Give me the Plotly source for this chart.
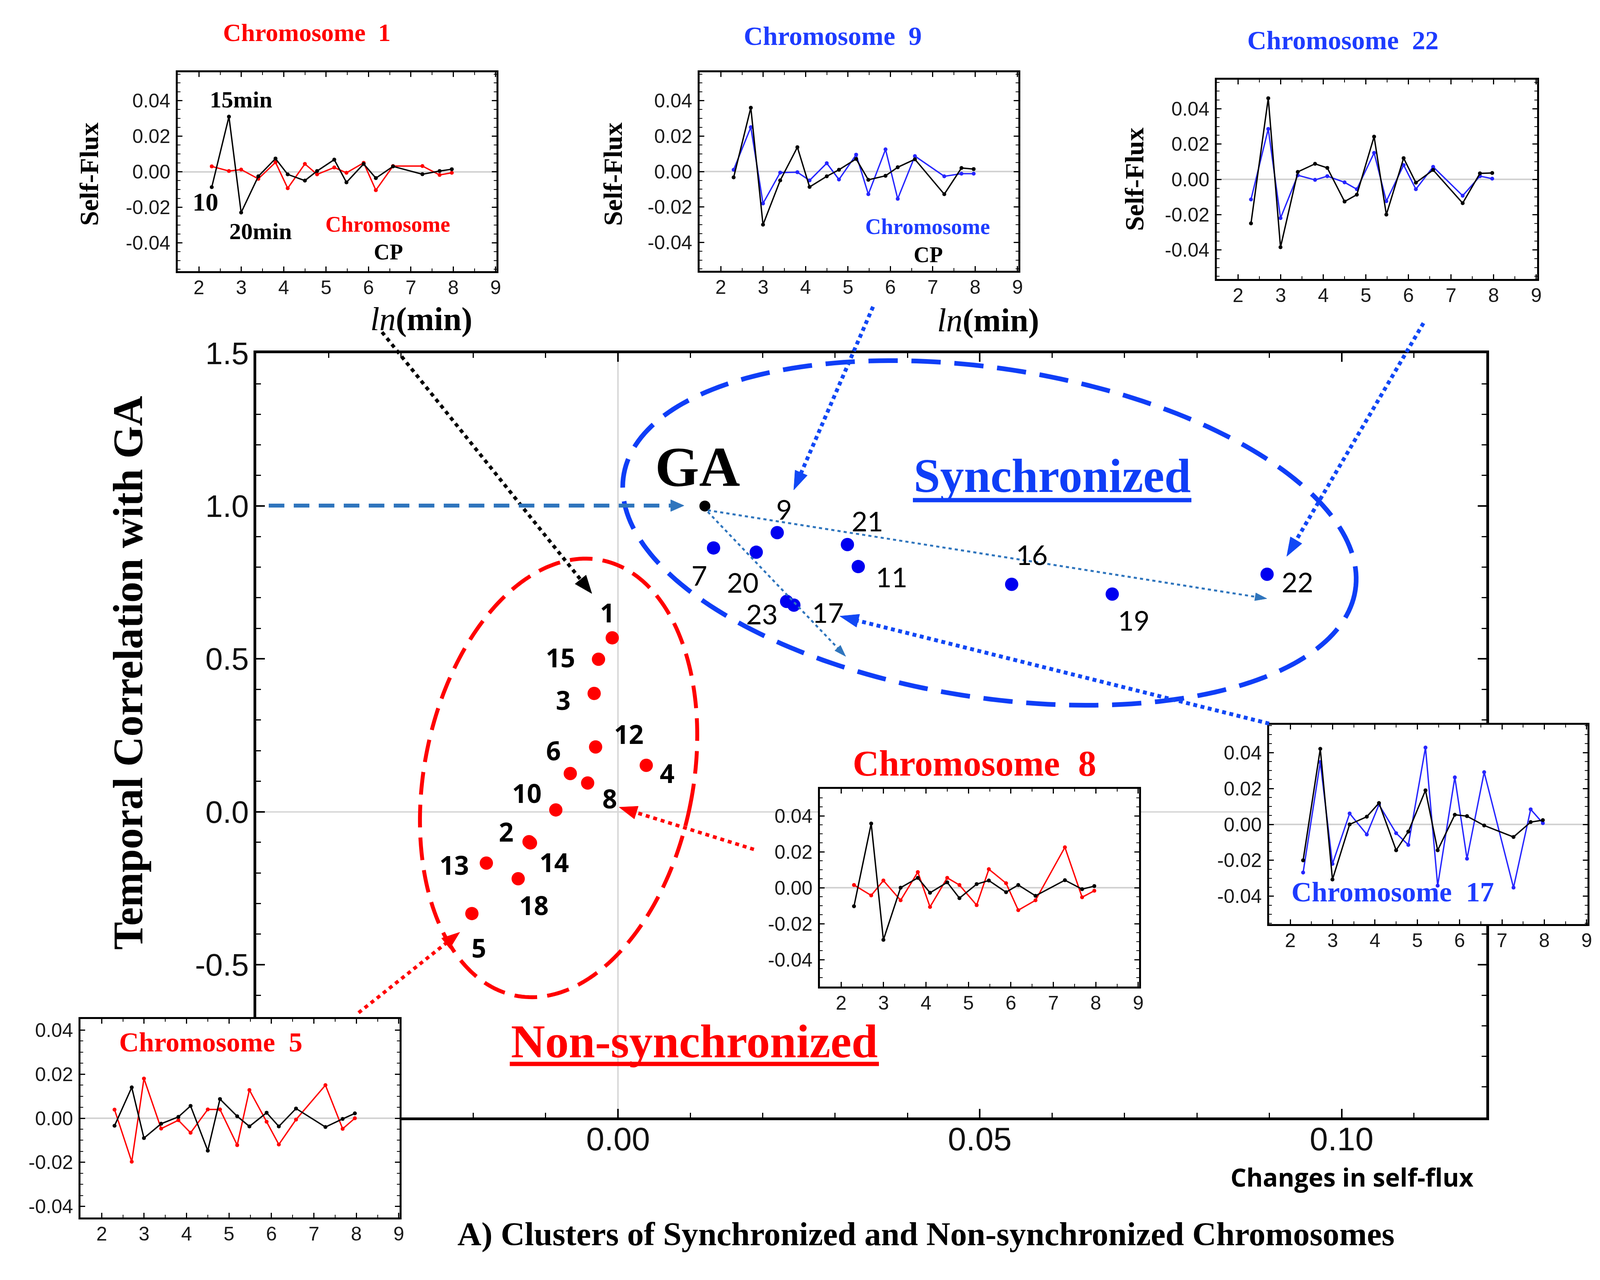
import numpy as np
import plotly.graph_objects as go

# target canvas 4117x3276; page body keeps its default 8px margin,
# so the figure is drawn 16px smaller and all positions are offset by 8px
W_PAGE, H_PAGE = 4117, 3276
OFF = 8
W, H = W_PAGE - 2 * OFF, H_PAGE - 2 * OFF - 4

# ---------------- data ----------------
minutes = [10, 15, 20, 30, 45, 60, 90, 120, 180, 240, 360, 480, 720, 1440, 2160, 2880]

chr1_self = [0.003, 0.0004, 0.0012, -0.004, 0.0053, -0.0093, 0.0044, -0.0015, 0.0024, -0.0006, 0.005, -0.0104, 0.0032, 0.0032, -0.0018, -0.0006]
chr1_cp = [-0.0087, 0.031, -0.023, -0.0026, 0.0074, -0.0015, -0.005, 0.0004, 0.0068, -0.006, 0.0044, -0.0036, 0.003, -0.0014, 0.0004, 0.0014]

chr9_self = [0.001, 0.025, -0.018, -0.0006, -0.0004, -0.005, 0.0047, -0.0045, 0.0095, -0.0128, 0.0125, -0.0154, 0.0087, -0.0027, -0.0012, -0.0012]
chr9_cp = [-0.0033, 0.036, -0.030, -0.005, 0.0137, -0.0087, -0.0027, 0.001, 0.0071, -0.0047, -0.0024, 0.0024, 0.0069, -0.0128, 0.002, 0.0014]

chr22_self = [-0.0114, 0.0286, -0.022, 0.0023, -0.0003, 0.0018, -0.0017, -0.0056, 0.015, -0.0124, 0.0081, -0.0056, 0.0071, -0.0093, 0.0018, 0.0004]
chr22_cp = [-0.025, 0.046, -0.0385, 0.0042, 0.0088, 0.0065, -0.0126, -0.0087, 0.0242, -0.020, 0.012, -0.0019, 0.0053, -0.0135, 0.0034, 0.0036]

chr8_self = [0.0015, -0.0043, 0.004, -0.007, 0.0087, -0.0107, 0.0055, 0.0015, -0.0097, 0.0103, 0.0025, -0.0125, -0.007, 0.0225, -0.0053, -0.0017]
chr8_cp = [-0.0103, 0.0357, -0.029, 0.0, 0.0055, -0.0028, 0.003, -0.0058, 0.002, 0.004, -0.0025, 0.0015, -0.0045, 0.0042, -0.0008, 0.0009]

chr17_self = [-0.0268, 0.0347, -0.022, 0.0061, -0.0056, 0.011, -0.0049, -0.0114, 0.0428, -0.0341, 0.0262, -0.0191, 0.0291, -0.0352, 0.0084, 0.0007]
chr17_cp = [-0.020, 0.0421, -0.0307, 0.0, 0.0043, 0.0119, -0.0144, -0.004, 0.019, -0.0144, 0.0054, 0.0046, -0.0006, -0.007, 0.0013, 0.0024]

chr5_self = [0.0039, -0.0197, 0.018, -0.0047, -0.0009, -0.0066, 0.004, 0.004, -0.0122, 0.0128, -0.0016, -0.0119, -0.0006, 0.015, -0.0048, 0.0]
chr5_cp = [-0.0034, 0.014, -0.009, -0.0025, 0.0006, 0.0056, -0.0147, 0.0087, 0.0009, -0.0037, 0.0025, -0.0037, 0.0044, -0.004, -0.0003, 0.0022]

# main scatter: changes in self-flux (x) vs temporal correlation with GA (y)
red_ids = ["1", "15", "3", "12", "4", "6", "8", "10", "2", "14", "13", "18", "5"]
red_x = [-0.0008, -0.0027, -0.0033, -0.0031, 0.0039, -0.0066, -0.0042, -0.0086, -0.0123, -0.0121, -0.0182, -0.0138, -0.0202]
red_y = [0.569, 0.499, 0.387, 0.212, 0.152, 0.125, 0.094, 0.006, -0.098, -0.102, -0.168, -0.219, -0.333]

blue_ids = ["9", "7", "20", "21", "11", "16", "19", "22", "23", "17"]
blue_x = [0.0220, 0.0132, 0.0191, 0.0317, 0.0332, 0.0544, 0.0683, 0.0897, 0.0233, 0.0243]
blue_y = [0.913, 0.863, 0.849, 0.874, 0.802, 0.744, 0.712, 0.777, 0.688, 0.676]

ga_x = [0.012]
ga_y = [1.0]

main_xticks = [0.0, 0.05, 0.10]
main_xticktext = ["0.00", "0.05", "0.10"]
main_yticks = [-0.5, 0.0, 0.5, 1.0, 1.5]
main_yticktext = ["-0.5", "0.0", "0.5", "1.0", "1.5"]
inset_xticks = [2, 3, 4, 5, 6, 7, 8, 9]
inset_yticks = [-0.04, -0.02, 0.0, 0.02, 0.04]
inset_yticktext = ["-0.04", "-0.02", "0.00", "0.02", "0.04"]

# ---------------- styles / positions ----------------
RED = "#FF0000"
BLUE = "#0000F0"
BLUE_LINE = "#2626FF"
BLUE_TXT = "#1E3CFF"
BLUE_ARR = "#1148F5"
STEEL = "#2F75BD"
SERIF = "Liberation Serif"
SANS = "Liberation Sans"

red_dx = [-12, -98, -79, 85, 54, -43, 57, -74, -58, 60, -83, 40, 18]
red_dy = [-65, -5, 16, -34, 19, -60, 39, -44, -26, 49, 4, 67, 87]
blue_dx = [18, -36, -34, 51, 85, 52, 55, 78, -63, 87]
blue_dy = [-60, 70, 77, -61, 26, -76, 66, 19, 32, 18]

insets = [
    dict(self=chr1_self, cp=chr1_cp, color=RED, box=(455, 185, 1271, 694), yr=0.056),
    dict(self=chr9_self, cp=chr9_cp, color=BLUE_LINE, box=(1791, 185, 2607, 693), yr=0.056),
    dict(self=chr22_self, cp=chr22_cp, color=BLUE_LINE, box=(3115, 204, 3935, 714), yr=0.0565),
    dict(self=chr8_self, cp=chr8_cp, color=RED, box=(2099, 2019, 2916, 2525), yr=0.055),
    dict(self=chr17_self, cp=chr17_cp, color=BLUE_LINE, box=(3249, 1855, 4064, 2365), yr=0.0555),
    dict(self=chr5_self, cp=chr5_cp, color=RED, box=(206, 2608, 1023, 3116), yr=0.045),
]


def fx(x):
    return (x - OFF) / W


def fy(y):
    return 1 - (y - OFF) / H


def P(x, y):
    return f"{fx(x):.5f},{fy(y):.5f}"


fig = go.Figure()

# main scatter
fig.add_trace(go.Scatter(x=red_x, y=red_y, mode="markers", xaxis="x", yaxis="y",
                         marker=dict(color=RED, size=34), hoverinfo="skip"))
fig.add_trace(go.Scatter(x=blue_x, y=blue_y, mode="markers", xaxis="x", yaxis="y",
                         marker=dict(color=BLUE, size=34), hoverinfo="skip"))
fig.add_trace(go.Scatter(x=ga_x, y=ga_y, mode="markers", xaxis="x", yaxis="y",
                         marker=dict(color="black", size=28), hoverinfo="skip"))

layout = {}
main_common = dict(showline=True, linecolor="black", linewidth=7, mirror="allticks",
                   ticks="inside", ticklen=22, tickwidth=4, tickcolor="black",
                   showgrid=False, zeroline=True, zerolinecolor="#d9d9d9", zerolinewidth=4,
                   automargin=False)
layout["xaxis"] = dict(domain=[fx(656), fx(3805)], anchor="y", range=[-0.05, 0.12],
                       tickmode="array", tickvals=main_xticks, ticktext=main_xticktext,
                       tickfont=dict(family=SANS, size=84, color="#111"),
                       ticklabelstandoff=-24,
                       minor=dict(ticks="inside", tickmode="linear", tick0=0, dtick=0.01,
                                  ticklen=12, tickwidth=3, tickcolor="black", showgrid=False),
                       **main_common)
layout["yaxis"] = dict(domain=[fy(2860), fy(904)], anchor="x", range=[-1.0, 1.5],
                       tickmode="array", tickvals=main_yticks, ticktext=main_yticktext,
                       tickfont=dict(family=SANS, size=80, color="#111"),
                       ticklabelstandoff=-4,
                       minor=dict(ticks="inside", tickmode="linear", tick0=0, dtick=0.1,
                                  ticklen=12, tickwidth=3, tickcolor="black", showgrid=False),
                       **main_common)

xs_ln = np.log(minutes)
for i, spec in enumerate(insets):
    k = i + 2
    fig.add_trace(go.Scatter(x=xs_ln, y=spec["self"], xaxis=f"x{k}", yaxis=f"y{k}",
                             mode="lines+markers", line=dict(color=spec["color"], width=3.5),
                             marker=dict(color=spec["color"], size=10), hoverinfo="skip"))
    fig.add_trace(go.Scatter(x=xs_ln, y=spec["cp"], xaxis=f"x{k}", yaxis=f"y{k}",
                             mode="lines+markers", line=dict(color="black", width=3.5),
                             marker=dict(color="black", size=10), hoverinfo="skip"))
    l, t, r, b = spec["box"]
    common = dict(showline=True, linecolor="black", linewidth=5, mirror="allticks",
                  ticks="inside", ticklen=12, tickwidth=3, tickcolor="black", showgrid=False,
                  automargin=False,
                  tickfont=dict(family=SANS, size=50, color="#1a1a1a"))
    layout[f"xaxis{k}"] = dict(domain=[fx(l), fx(r)], anchor=f"y{k}", range=[1.5, 9.02],
                               tickmode="array", tickvals=inset_xticks, zeroline=False,
                               ticklabelstandoff=-6,
                               minor=dict(ticks="inside", tickmode="linear", tick0=0, dtick=0.5,
                                          ticklen=7, tickwidth=2, tickcolor="black"),
                               **common)
    layout[f"yaxis{k}"] = dict(domain=[fy(b), fy(t)], anchor=f"x{k}",
                               range=[-spec["yr"], spec["yr"]],
                               tickmode="array", tickvals=inset_yticks, ticktext=inset_yticktext,
                               zeroline=True, zerolinecolor="#d2d2d2", zerolinewidth=4,
                               ticklabelstandoff=4,
                               minor=dict(ticks="inside", tickmode="linear", tick0=0, dtick=0.005,
                                          ticklen=7, tickwidth=2, tickcolor="black"),
                               **common)

# ---------------- decorations ----------------
shapes = []


def line_px(x0, y0, x1, y1, color, width, dash="solid"):
    shapes.append(dict(type="line", xref="paper", yref="paper", layer="above",
                       x0=fx(x0), y0=fy(y0), x1=fx(x1), y1=fy(y1),
                       line=dict(color=color, width=width, dash=dash)))


def arrow_px(x0, y0, x1, y1, color, width, dash, hl, hw):
    d = np.hypot(x1 - x0, y1 - y0)
    ux, uy = (x1 - x0) / d, (y1 - y0) / d
    bx, by = x1 - ux * hl * 0.85, y1 - uy * hl * 0.85
    line_px(x0, y0, bx, by, color, width, dash)
    bx, by = x1 - ux * hl, y1 - uy * hl
    nx, ny = -uy, ux
    path = (f"M {P(x1, y1)} L {P(bx + nx * hw / 2, by + ny * hw / 2)} "
            f"L {P(bx - nx * hw / 2, by - ny * hw / 2)} Z")
    shapes.append(dict(type="path", xref="paper", yref="paper", layer="above", path=path,
                       fillcolor=color, line=dict(color=color, width=1)))


def ellipse_px(cx, cy, a, b, phi_deg, color, width, dash):
    t = np.linspace(0, 2 * np.pi, 240)
    phi = np.radians(phi_deg)
    xs = cx + a * np.cos(t) * np.cos(phi) - b * np.sin(t) * np.sin(phi)
    ys = cy + a * np.cos(t) * np.sin(phi) + b * np.sin(t) * np.cos(phi)
    path = "M " + " L ".join(P(x, y) for x, y in zip(xs, ys)) + " Z"
    shapes.append(dict(type="path", xref="paper", yref="paper", layer="above", path=path,
                       line=dict(color=color, width=width, dash=dash)))


ellipse_px(1430, 1991, 344, 568, 11.15, RED, 10, "58px,26px")
ellipse_px(2533, 1364, 948, 421, 8.9, "#0F3EF7", 12, "75px,35px")

arrow_px(978, 850, 1515, 1519, "black", 9, "10px,10px", 46, 36)
arrow_px(2235, 785, 2032, 1254, BLUE_ARR, 10, "10px,9px", 48, 34)
arrow_px(3644, 827, 3294, 1424, BLUE_ARR, 10, "10px,9px", 48, 34)
arrow_px(3249, 1852, 2150, 1577, BLUE_ARR, 10, "10px,9px", 48, 34)
arrow_px(1930, 2174, 1585, 2066, RED, 9, "10px,10px", 46, 34)
arrow_px(918, 2592, 1177, 2386, RED, 9, "10px,10px", 46, 34)
arrow_px(688, 1294, 1751, 1294, STEEL, 10, "40px,24px", 34, 30)
arrow_px(1812, 1306, 3243, 1532, STEEL, 5, "8px,8px", 30, 20)
arrow_px(1812, 1310, 2165, 1680, STEEL, 5, "8px,8px", 30, 20)

# underlines
line_px(2337, 1280, 3050, 1280, "#0F3EF7", 11)
line_px(1305, 2723, 2250, 2723, RED, 11)

annotations = []


def text_px(txt, cx, cy, size, color="black", family=SERIF, angle=0):
    annotations.append(dict(text=txt, x=fx(cx), y=fy(cy), xref="paper", yref="paper",
                            showarrow=False, xanchor="center", yanchor="middle",
                            textangle=angle, font=dict(family=family, size=size, color=color)))


text_px("<b>Temporal Correlation with GA</b>", 328, 1722, 107, angle=-90)
text_px("<b>Changes in self-flux</b>", 3461, 3012, 64, family="Open Sans")
text_px("<b>A) Clusters of Synchronized and Non-synchronized Chromosomes</b>", 2370, 3158, 85)
text_px("<b>GA</b>", 1786, 1195, 145)
text_px("<b>Synchronized</b>", 2694, 1217, 122, color="#0F3EF7")
text_px("<b>Non-synchronized</b>", 1777, 2665, 121, color=RED)

text_px("<b>Chromosome\u00a0 1</b>", 785, 84, 64, color=RED)
text_px("<b>Chromosome\u00a0 9</b>", 2132, 92, 68, color=BLUE_TXT)
text_px("<b>Chromosome\u00a0 22</b>", 3438, 103, 68, color=BLUE_TXT)
text_px("<b>Chromosome\u00a0 8</b>", 2494, 1954, 93, color=RED)
text_px("<b>Chromosome\u00a0 17</b>", 3565, 2283, 72, color=BLUE_TXT)
text_px("<b>Chromosome\u00a0 5</b>", 539, 2667, 70, color=RED)

for cx, cy in [(228, 446), (1569, 446), (2904, 459)]:
    text_px("<b>Self-Flux</b>", cx, cy, 68, angle=-90)
for cx, cy in [(1078, 817), (2529, 820)]:
    text_px("<i>ln</i><b>(min)</b>", cx, cy, 84)

text_px("<b>15min</b>", 617, 255, 60)
text_px("<b>10</b>", 526, 516, 66)
text_px("<b>20min</b>", 667, 592, 60)
text_px("<b>Chromosome</b>", 992, 574, 56, color=RED)
text_px("<b>CP</b>", 994, 645, 56)
text_px("<b>Chromosome</b>", 2374, 580, 56, color=BLUE_TXT)
text_px("<b>CP</b>", 2376, 652, 56)

for lab, x, y, dx, dy in zip(red_ids, red_x, red_y, red_dx, red_dy):
    annotations.append(dict(text=f"<b>{lab}</b>", x=x, y=y, xref="x", yref="y", showarrow=False,
                            xshift=dx, yshift=-dy, xanchor="center", yanchor="middle",
                            font=dict(family="Open Sans", size=66, color="black")))
for lab, x, y, dx, dy in zip(blue_ids, blue_x, blue_y, blue_dx, blue_dy):
    annotations.append(dict(text=lab, x=x, y=y, xref="x", yref="y", showarrow=False,
                            xshift=dx, yshift=-dy, xanchor="center", yanchor="middle",
                            font=dict(family="Lato", size=70, color="black")))

layout.update(dict(width=W, height=H, autosize=False, margin=dict(l=0, r=0, t=0, b=0, pad=0),
                   paper_bgcolor="white", plot_bgcolor="white", showlegend=False,
                   shapes=shapes, annotations=annotations))
fig.update_layout(**layout)

fig.write_html("out.html", config={"displayModeBar": False})
